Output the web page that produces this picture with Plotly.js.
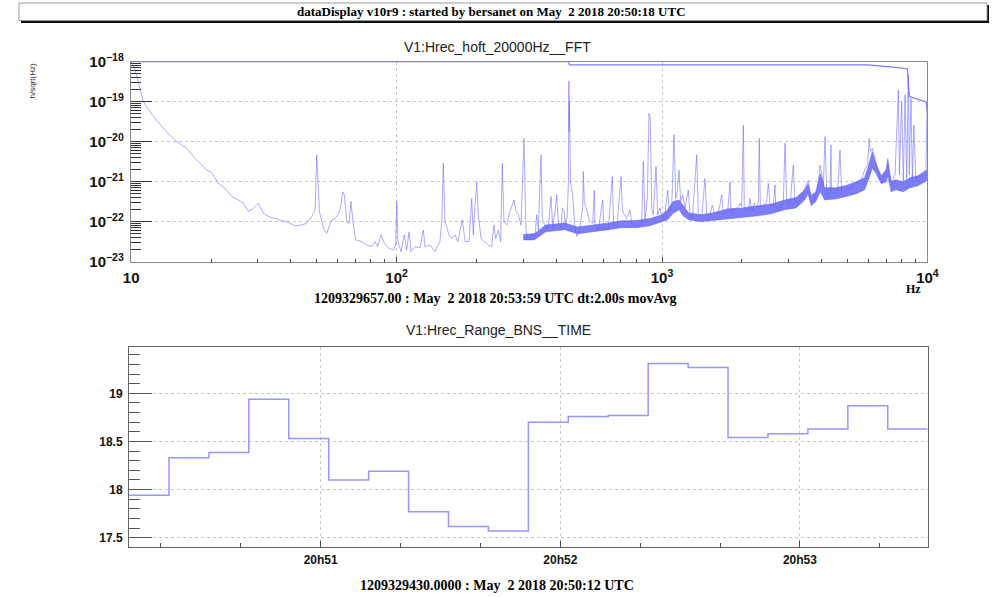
<!DOCTYPE html>
<html>
<head>
<meta charset="utf-8">
<script src="https://cdn.plot.ly/plotly-3.0.1.min.js"></script>
<style>
  html, body { margin: 0; padding: 0; background: #ffffff; }
  #chart { width: 992px; height: 597px; }
</style>
</head>
<body>
<div id="chart"></div>
<script>
// ---- Amplitude spectral density of h(t), V1 (Hz, strain/sqrt(Hz)) ----
const specFreq = [
  10, 10.3, 10.8, 11.1, 12.0, 13.4, 14.6, 16.2, 17.4, 18.5, 19.3, 20.1, 21.3, 22.6, 23.9, 25.3,
  26.5, 27.6, 28.8, 30.1, 31.5, 32.9, 34.8, 36.9, 39.1, 41.4, 43.9, 45.8, 47.9, 49.3, 50.0, 51.2,
  53.0, 54.5, 56.1, 56.9, 58.6, 60.3, 61.7, 62.6, 63.5, 64.9, 66.2, 67.3, 68.5, 70.1, 73.9, 77.1,
  80.5, 82.9, 84.9, 87.3, 89.9, 93.1, 97.2, 99.2, 100.1, 101.2, 103.9, 106.9, 109.1, 111.4, 113.3,
  117.3, 122.5, 126.1, 127.9, 133.6, 139.5, 145.7, 147.9, 150.0, 152.1, 155.3, 157.6, 161.3, 166,
  170, 173.4, 176.9, 181.1, 187.4, 191.9, 194.5, 197.4, 200.4, 203.2, 208, 214.1, 221.6, 228.2,
  232.8, 236.3, 241.6, 246.6, 250.2, 253.9, 260, 265.9, 271.5, 277, 281.8, 287.4, 294.2, 302,
  307.3, 313.6, 318.2, 324.6, 332.3, 337.2, 342, 350, 354, 364.7, 372.9, 381.7, 387.3, 395.1,
  401, 406.6, 416.3, 421, 428.3, 433.5, 439.7, 444, 445, 446, 447, 448, 449.5, 452, 460.7,
  470, 477, 488, 502.8, 505.4, 509.7, 520.5, 532.2, 548.2, 555.9, 559.3, 575.4, 597.6, 604.5,
  627.8, 649.9, 657.7, 676.9, 700.8, 708.9, 721.1, 736.2, 757.7, 768.8, 791, 814.2, 838.6, 850.3,
  862.9, 880.2, 893.3, 903.6, 914.2, 926.9, 949.3, 963.4, 983, 1002.7, 1026, 1050.7, 1065.4,
  1087.8, 1109.6, 1126, 1142, 1158.8, 1176, 1196.7, 1221, 1256.4, 1275, 1301, 1331.6, 1351, 1370,
  1411, 1452, 1473.7, 1516.7, 1547, 1584, 1630, 1678.8, 1702, 1768, 1804, 1820, 1873, 1939, 1967,
  1997, 2025, 2042, 2114, 2145, 2178, 2227, 2254, 2306, 2326, 2346, 2409, 2480, 2515, 2553, 2627,
  2666, 2683, 2783, 2864, 2907, 2950, 3035, 3124, 3170, 3263, 3361, 3459, 3510, 3560, 3644, 3718,
  3794, 3882, 3939, 3997, 4055, 4114, 4174, 4295, 4332, 4352, 4485, 4592, 4685, 4753, 4892, 5036,
  5186, 5337, 5493, 5656, 5821, 5957, 6026, 6096, 6200, 6346, 6499, 6630, 6823, 7027, 7093, 7168,
  7338, 7551, 7772, 7847, 8000, 8116, 8237, 8359, 8472, 8550, 8670, 8780, 8890, 9036, 9376, 9652,
  9879, 9966
];
const specAmp = [
  1.0e-18, 6.8e-19, 2.1e-19, 1.0e-19, 4.7e-20, 1.95e-20, 1.1e-20, 6.8e-21, 3.8e-21, 2.6e-21, 1.95e-21, 1.7e-21, 9.1e-22, 6.8e-22, 4.3e-22, 3.5e-22,
  2.9e-22, 1.8e-22, 2.1e-22, 2.9e-22, 1.6e-22, 1.35e-22, 1.2e-22, 1.07e-22, 9.5e-23, 7.9e-23, 8.3e-23, 9.1e-23, 1.35e-22, 1.95e-22, 4.7e-21, 1.8e-22,
  6.8e-23, 5.1e-23, 8.3e-23, 1.1e-22, 1.2e-22, 1.5e-22, 2.6e-22, 5.6e-22, 4.7e-22, 1.0e-22, 9.1e-23, 3.2e-22, 1.0e-22, 3.5e-23, 3.2e-23, 2.6e-23,
  2.4e-23, 3.2e-23, 2.4e-23, 4.7e-23, 2.9e-23, 2.2e-23, 1.95e-23, 2.6e-23, 3.2e-22, 3.2e-23, 1.8e-23, 4.7e-23, 1.95e-23, 5.6e-23, 1.8e-23,
  2.4e-23, 2.2e-23, 6.2e-23, 2.4e-23, 2.6e-23, 1.8e-23, 3.2e-23, 1.0e-22, 2.9e-21, 1.0e-22, 6.8e-23, 4.7e-23, 3.8e-23, 4.7e-23,
  3.2e-23, 5.6e-23, 1.1e-22, 3.2e-23, 3.2e-23, 3.8e-22, 4.7e-23, 2.6e-22, 1.0e-21, 1.5e-22, 3.8e-23, 3.2e-23, 2.6e-23, 2.4e-23,
  8.3e-23, 3.8e-23, 6.2e-23, 3.2e-23, 2.9e-21, 1.0e-22, 8.3e-23, 1.6e-22, 2.4e-22, 3.5e-22, 1.8e-22, 1.5e-22, 8.3e-23, 1.2e-20,
  5.6e-23, 3.8e-23, 3.5e-23, 5.1e-23, 4.3e-23, 1.5e-22, 6.2e-23, 4.7e-21, 1.2e-22, 6.8e-23, 6.8e-23, 4.3e-22, 7.6e-23, 1.8e-22,
  4.7e-22, 1.0e-22, 6.8e-23, 2.2e-22, 1.8e-22, 7.6e-23, 1.5e-22, 1.0e-21, 1.0e-19, 3.3e-19, 1.8e-20, 1.0e-19, 1.8e-20, 1.0e-21, 4.7e-22,
  6.8e-23, 4.3e-23, 5.6e-23, 2.4e-22, 1.8e-21, 3.2e-22, 1.95e-22, 1.1e-22, 9.1e-23, 6.2e-22, 7.6e-23, 6.2e-23, 3.5e-22, 6.2e-23,
  6.8e-23, 1.35e-21, 7.6e-23, 8.3e-23, 1.35e-21, 1.95e-22, 1.5e-22, 1.2e-22, 1.95e-22, 9.1e-23, 8.3e-23, 7.6e-23, 9.1e-23, 3.2e-21,
  1.1e-22, 3.8e-22, 5.1e-20, 3.8e-20, 2.2e-22, 1.5e-22, 2.4e-21, 1.5e-22, 2.2e-22, 1.2e-22, 1.6e-22, 6.2e-22, 1.8e-22,
  2.2e-22, 1.5e-20, 3.8e-22, 5.6e-22, 1.95e-21, 3.2e-22, 4.7e-22, 2.2e-22, 6.2e-22, 1.5e-22, 1.2e-22, 1.1e-21, 4.7e-21, 1.5e-22,
  1.35e-22, 1.2e-21, 1.5e-22, 1.5e-22, 2.6e-22, 1.5e-22, 1.6e-22, 4.7e-22, 1.5e-22, 1.8e-22, 1.0e-21, 1.8e-22, 1.95e-22, 2.4e-22, 2.9e-22,
  2.4e-22, 2.6e-20, 2.2e-22, 1.95e-22, 3.8e-22, 1.8e-22, 2.9e-22, 2.2e-22, 2.9e-22, 1.2e-20, 2.4e-22, 2.4e-22, 3.2e-22, 9.1e-22, 2.9e-22, 2.4e-22,
  8.3e-22, 2.2e-22, 2.2e-22, 2.9e-22, 9.1e-21, 3.2e-22, 2.4e-22, 2.6e-21, 3.2e-22, 3.2e-22, 3.8e-22, 7.6e-22, 9.1e-22, 1.1e-21, 3.2e-22, 3.2e-22,
  4.7e-22, 9.1e-22, 2.6e-21, 1.6e-21, 7.6e-22, 1.35e-20, 5.1e-22, 4.7e-22, 8.3e-21, 5.6e-22, 5.1e-22, 5.6e-22, 6.2e-21, 5.6e-22, 6.2e-22, 6.8e-22,
  7.6e-22, 9.1e-22, 1.0e-21, 1.2e-21, 2.1e-21, 2.6e-21, 1.2e-20, 5.6e-21, 6.8e-21, 3.8e-21, 2.1e-21, 1.2e-21, 1.2e-21, 2.4e-21, 3.8e-21, 1.8e-21,
  9.1e-22, 1.5e-21, 1.95e-19, 1.5e-21, 1.0e-19, 1.0e-21, 1.5e-19, 1.2e-21, 4.7e-19, 1.5e-21, 1.2e-19, 1.2e-21, 2.6e-20, 1.2e-21, 1.35e-21, 1.6e-21,
  2.1e-21, 6.8e-20
];

// Lower / upper edges of the dense noise floor above ~300 Hz
const bandFreq = [300, 330, 365, 430, 480, 560, 630, 700, 800, 900, 1000, 1050, 1100, 1160, 1200, 1260, 1400,
  1550, 1780, 2000, 2300, 2600, 2900, 3200, 3450, 3550, 3650, 3800, 3950, 4100, 4500, 4900, 5400, 5800, 6000, 6200, 6400,
  6700, 7000, 7100, 7300, 7600, 8100, 8600, 9200, 9800, 10000];
const bandLo = [3.5e-23, 3.5e-23, 5.6e-23, 6.3e-23, 5.0e-23, 5.6e-23, 6.3e-23, 7.1e-23, 7.1e-23, 7.9e-23, 1.0e-22, 1.12e-22, 1.6e-22,
  2.0e-22, 1.4e-22, 1.12e-22, 1.0e-22, 1.07e-22, 1.2e-22, 1.26e-22, 1.4e-22, 1.6e-22, 2.0e-22, 2.2e-22, 3.5e-22, 5.0e-22, 2.5e-22,
  3.2e-22, 5.6e-22, 3.5e-22, 3.7e-22, 4.2e-22, 5.0e-22, 6.3e-22, 1.12e-21, 2.2e-21, 1.6e-21, 8.9e-22, 1.0e-21, 1.4e-21, 5.6e-22,
  6.3e-22, 5.6e-22, 7.1e-22, 7.9e-22, 1.0e-21, 1.12e-21];
const bandHi = [4.8e-23, 5.0e-23, 8.3e-23, 9.3e-23, 7.4e-23, 8.3e-23, 9.3e-23, 1.05e-22, 1.07e-22, 1.2e-22, 1.5e-22, 2.0e-22, 3.2e-22,
  3.5e-22, 2.5e-22, 1.66e-22, 1.5e-22, 1.66e-22, 2.1e-22, 2.2e-22, 2.5e-22, 2.8e-22, 3.5e-22, 4.0e-22, 6.3e-22, 8.9e-22, 4.5e-22,
  5.6e-22, 1.6e-21, 7.1e-22, 7.1e-22, 7.9e-22, 1.0e-21, 1.26e-21, 2.5e-21, 5.6e-21, 2.8e-21, 1.4e-21, 2.0e-21, 3.2e-21, 1.0e-21,
  1.12e-21, 1.0e-21, 1.26e-21, 1.4e-21, 1.8e-21, 2.0e-21];

// Running maximum of the spectrum
const maxFreq = [10, 446, 447, 5950, 7770, 8420, 8470, 8560, 8700, 9300, 9900, 9990];
const maxAmp = [1.0e-18, 1.0e-18, 8.3e-19, 8.3e-19, 7.1e-19, 6.6e-19, 3.0e-19, 1.35e-19, 1.3e-19, 1.12e-19, 9.8e-20, 6.0e-20];

// ---- BNS range, 10 s bins (Mpc) ----
const rangeTime = [
  '2018-05-02 20:50:12', '2018-05-02 20:50:22', '2018-05-02 20:50:32', '2018-05-02 20:50:42',
  '2018-05-02 20:50:52', '2018-05-02 20:51:02', '2018-05-02 20:51:12', '2018-05-02 20:51:22',
  '2018-05-02 20:51:32', '2018-05-02 20:51:42', '2018-05-02 20:51:52', '2018-05-02 20:52:02',
  '2018-05-02 20:52:12', '2018-05-02 20:52:22', '2018-05-02 20:52:32', '2018-05-02 20:52:42',
  '2018-05-02 20:52:52', '2018-05-02 20:53:02', '2018-05-02 20:53:12', '2018-05-02 20:53:22'
];
const rangeEnd = '2018-05-02 20:53:32';
const rangeMpc = [17.94, 18.33, 18.385, 18.94, 18.53, 18.10, 18.19, 17.77, 17.615, 17.57,
  18.70, 18.76, 18.77, 19.31, 19.27, 18.54, 18.58, 18.63, 18.87, 18.63];

// ---- text ----
const headerText = 'dataDisplay v10r9 : started by bersanet on May \u00a02 2018 20:50:18 UTC';
const fftTitle = 'V1:Hrec_hoft_20000Hz__FFT';
const fftStamp = '1209329657.00 : May \u00a02 2018 20:53:59 UTC dt:2.00s movAvg';
const rangeTitle = 'V1:Hrec_Range_BNS__TIME';
const rangeStamp = '1209329430.0000 : May \u00a02 2018 20:50:12 UTC';
const fftYLabel = 'h/sqrt(Hz)';
const fftXLabel = 'Hz';

// ---- figure geometry (pixels of a 992 x 597 canvas) ----
const W = 992, H = 597;
const px = v => v / W;
const py = v => 1 - v / H;

const SANS = 'Liberation Sans, Arial, Helvetica, sans-serif';
const SERIF = 'Liberation Serif, Times New Roman, serif';
const tickFont = { family: SANS, size: 12, color: '#111', weight: 'bold' };

const traces = [
  { // noise floor band (lower edge)
    x: bandFreq, y: bandLo, xaxis: 'x', yaxis: 'y', type: 'scatter', mode: 'lines',
    line: { width: 0.8, color: 'rgba(85,85,245,0.55)' }, hoverinfo: 'skip'
  },
  { // noise floor band (upper edge, filled down to lower edge)
    x: bandFreq, y: bandHi, xaxis: 'x', yaxis: 'y', type: 'scatter', mode: 'lines',
    fill: 'tonexty', fillcolor: 'rgba(88,88,245,0.78)',
    line: { width: 0.8, color: 'rgba(85,85,245,0.55)' }, hoverinfo: 'skip'
  },
  { // spectrum
    x: specFreq, y: specAmp, xaxis: 'x', yaxis: 'y', type: 'scatter', mode: 'lines',
    line: { width: 1, color: 'rgba(100,100,255,0.55)' }
  },
  { // running maximum
    x: maxFreq, y: maxAmp, xaxis: 'x', yaxis: 'y', type: 'scatter', mode: 'lines',
    line: { width: 1.2, color: 'rgba(100,100,255,0.85)' }
  },
  { // BNS range histogram
    x: rangeTime.concat([rangeEnd]), y: rangeMpc.concat([rangeMpc[rangeMpc.length - 1]]),
    xaxis: 'x2', yaxis: 'y2', type: 'scatter', mode: 'lines',
    line: { shape: 'hv', width: 1.5, color: 'rgb(150,150,255)' }
  }
];

const frame = { showline: true, mirror: true, linecolor: '#8a8a8a', linewidth: 1, zeroline: false };
const grid = { showgrid: true, gridcolor: '#c8c8c8', griddash: 'dot', gridwidth: 1 };

const layout = {
  width: W, height: H,
  margin: { l: 0, r: 0, t: 0, b: 0 },
  paper_bgcolor: '#ffffff', plot_bgcolor: '#ffffff',
  showlegend: false,
  xaxis: Object.assign({}, frame, grid, {
    domain: [px(131.2), px(927.4)], anchor: 'y',
    type: 'log', range: [1, 4], dtick: 1, exponentformat: 'power',
    ticks: 'inside', ticklen: 5, tickcolor: '#444', ticklabelstandoff: 3,
    minor: { ticks: 'inside', ticklen: 3, tickcolor: '#444', dtick: 'D1', showgrid: false },
    tickfont: tickFont
  }),
  yaxis: Object.assign({}, frame, grid, {
    domain: [py(261.7), py(61.7)], anchor: 'x',
    type: 'log', range: [-23, -18], dtick: 1, exponentformat: 'power',
    ticks: 'inside', ticklen: 21, tickcolor: '#333', ticklabelstandoff: 4,
    minor: { ticks: 'inside', ticklen: 10, tickcolor: '#333', dtick: 'D1', showgrid: false },
    tickfont: tickFont
  }),
  xaxis2: Object.assign({}, frame, grid, {
    domain: [px(129), px(927.7)], anchor: 'y2',
    type: 'date', range: ['2018-05-02 20:50:12', rangeEnd],
    tick0: '2018-05-02 20:51:00', dtick: 60000, tickformat: '%Hh%M',
    ticks: 'inside', ticklen: 6, tickcolor: '#444', ticklabelstandoff: 2,
    minor: { ticks: 'inside', ticklen: 4, tickcolor: '#444', dtick: 20000, showgrid: false },
    tickfont: tickFont, linecolor: '#666'
  }),
  yaxis2: Object.assign({}, frame, grid, {
    domain: [py(546.7), py(346.7)], anchor: 'x2',
    range: [17.406, 19.485], tick0: 17.5, dtick: 0.5,
    ticks: 'inside', ticklen: 23, tickcolor: '#555', ticklabelstandoff: 3,
    minor: { ticks: 'inside', ticklen: 11, tickcolor: '#555', dtick: 0.1, showgrid: false },
    tickfont: tickFont, linecolor: '#666'
  }),
  shapes: [
    { type: 'rect', xref: 'paper', yref: 'paper', x0: px(21), x1: px(989), y0: py(23), y1: py(5),
      fillcolor: '#111', line: { width: 0 }, layer: 'below' },
    { type: 'rect', xref: 'paper', yref: 'paper', x0: px(19), x1: px(987), y0: py(20.5), y1: py(3),
      fillcolor: '#ffffff', line: { width: 1, color: '#9a9a9a' }, layer: 'below' }
  ],
  annotations: [
    { text: headerText, xref: 'paper', yref: 'paper', x: px(491), y: py(12), showarrow: false,
      xanchor: 'center', yanchor: 'middle', font: { family: SERIF, size: 13, color: '#000', weight: 'bold' } },
    { text: fftTitle, xref: 'paper', yref: 'paper', x: px(497), y: py(47), showarrow: false,
      xanchor: 'center', yanchor: 'middle', font: { family: SANS, size: 14, color: '#222' } },
    { text: fftStamp, xref: 'paper', yref: 'paper', x: px(495), y: py(298), showarrow: false,
      xanchor: 'center', yanchor: 'middle', font: { family: SERIF, size: 14, color: '#000', weight: 'bold' } },
    { text: rangeTitle, xref: 'paper', yref: 'paper', x: px(498), y: py(330), showarrow: false,
      xanchor: 'center', yanchor: 'middle', font: { family: SANS, size: 14, color: '#222' } },
    { text: rangeStamp, xref: 'paper', yref: 'paper', x: px(497), y: py(585), showarrow: false,
      xanchor: 'center', yanchor: 'middle', font: { family: SERIF, size: 14, color: '#000', weight: 'bold' } },
    { text: fftYLabel, xref: 'paper', yref: 'paper', x: px(32), y: py(62), showarrow: false, textangle: -90,
      xanchor: 'center', yanchor: 'top', font: { family: SANS, size: 8, color: '#333' } },
    { text: fftXLabel, xref: 'paper', yref: 'paper', x: px(913), y: py(289), showarrow: false,
      xanchor: 'center', yanchor: 'middle', font: { family: SERIF, size: 12, color: '#000', weight: 'bold' } }
  ]
};

Plotly.newPlot('chart', traces, layout, { displayModeBar: false, staticPlot: true });
</script>
</body>
</html>
